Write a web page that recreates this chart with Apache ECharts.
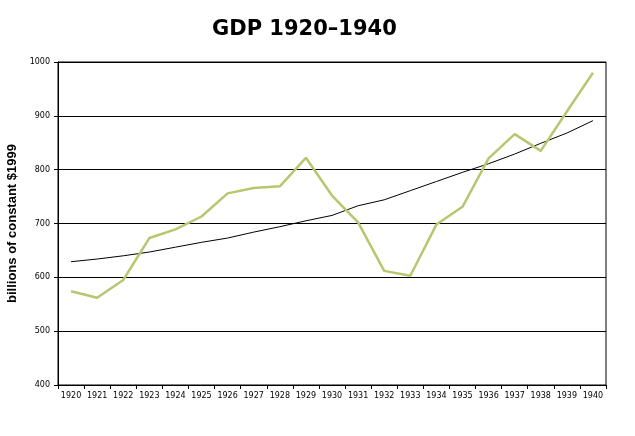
<!DOCTYPE html>
<html><head><meta charset="utf-8">
<script src="https://cdn.jsdelivr.net/npm/echarts@6/dist/echarts.min.js"></script>
<style>html,body{margin:0;padding:0;background:#fff}#c{width:635px;height:436px}</style>
</head><body><div id="c"></div>
<script>
var years = ['1920','1921','1922','1923','1924','1925','1926','1927','1928','1929','1930','1931','1932','1933','1934','1935','1936','1937','1938','1939','1940'];
var gdp = [574,562,595,673,689,713,756,766,769,822,752,702,612,603,698,731,821,866,835,908,980];
var trend = [629,634,640,647,656,665,673,684,694,705,715,733,744,761,778,795,811,829,849,868,891];
var yTicks = {min:400, max:1000, interval:100};

var chart = echarts.init(document.getElementById('c'));
chart.setOption({
  backgroundColor:'#fff',
  animation:false,
  title:{text:'GDP 1920\u20131940', left:207, top:14,
    textStyle:{fontFamily:'DejaVu Sans', fontWeight:'bold', fontSize:21, color:'#000'}},
  grid:{left:58, right:29, top:62, bottom:51, show:true, borderColor:'#000', borderWidth:1,
    containLabel:false, outerBoundsMode:'none'},
  xAxis:{type:'category', data:years, boundaryGap:true,
    axisLine:{lineStyle:{color:'#000', width:1}},
    axisTick:{show:true, length:4, lineStyle:{color:'#000'}},
    axisLabel:{fontFamily:'DejaVu Sans', fontSize:8, color:'#000', margin:7, interval:0},
    splitLine:{show:false}},
  yAxis:{type:'value', min:yTicks.min, max:yTicks.max, interval:yTicks.interval,
    name:'billions of constant $1999', nameLocation:'middle', nameGap:32,
    nameTextStyle:{fontFamily:'Liberation Sans', fontWeight:'bold', fontSize:13, color:'#000'},
    axisLine:{show:true, lineStyle:{color:'#000', width:1}},
    axisTick:{show:true, length:4, lineStyle:{color:'#000'}},
    axisLabel:{fontFamily:'DejaVu Sans', fontSize:8, color:'#000', margin:8,
      formatter:function(v){return String(v);}},
    splitLine:{show:true, lineStyle:{color:'#000', width:1}}},
  series:[
    {type:'line', name:'GDP', data:gdp, symbol:'none', lineStyle:{color:'#b7c66f', width:2.5}, z:3},
    {type:'line', name:'trend', data:trend, symbol:'none', lineStyle:{color:'#000', width:1}, z:2}
  ]
});
</script></body></html>
